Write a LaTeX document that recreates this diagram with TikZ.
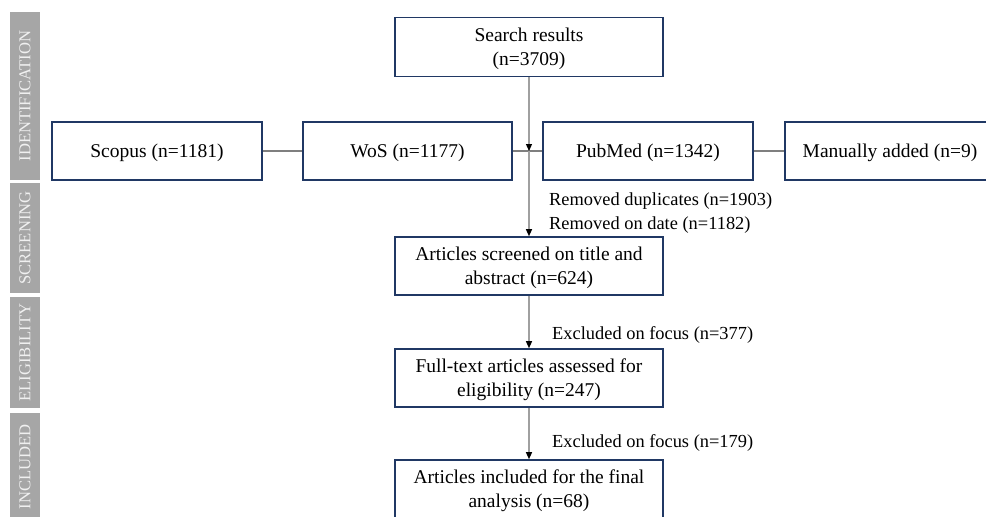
\documentclass[tikz,border=0pt]{standalone}
\usepackage{fontspec}
\setmainfont{Liberation Serif}
\usetikzlibrary{arrows.meta}
\definecolor{boxnavy}{HTML}{203864}
\definecolor{linegray}{HTML}{7F7F7F}
\definecolor{vgray}{HTML}{A0A0A0}
\definecolor{barfill}{HTML}{A6A6A6}
\definecolor{bartext}{HTML}{F0F0F0}
\begin{document}
\begin{tikzpicture}[x=1pt,y=-1pt,
  flowbox/.style={draw=boxnavy,line width=1.6pt,fill=white,inner sep=0pt,text depth=0pt,
    minimum height=58pt,align=center,font=\fontsize{19.5}{24}\selectfont},
  srcbox/.style={flowbox,minimum width=210pt},
  mainbox/.style={flowbox,minimum width=268pt},
  notetext/.style={anchor=west,align=left,inner sep=0pt,font=\fontsize{18.4}{24}\selectfont},
  hlink/.style={draw=linegray,line width=1.8pt},
  vlink/.style={draw=vgray,line width=1.2pt,-{Triangle[width=6pt,length=7pt,fill=black,color=black]}},
  phasebar/.style={fill=barfill,draw=none,rotate=90,inner sep=0pt,minimum height=30pt,
    text=bartext,font=\fontsize{16.6}{18}\selectfont}
]
\useasboundingbox (0,0) rectangle (986,517);
\clip (0,0) rectangle (986,517);

% phase bars
\node[phasebar,minimum width=168pt] (pid) at (25,96) {IDENTIFICATION};
\node[phasebar,minimum width=110pt] (psc) at (25,238) {SCREENING};
\node[phasebar,minimum width=111pt] (pel) at (25,352.5) {ELIGIBILITY};
\node[phasebar,minimum width=108pt] (pin) at (25,467) {INCLUDED};

% boxes
\node[mainbox,minimum height=59pt] (search) at (529,47) {Search results\\(n=3709)};
\node[srcbox] (scopus) at (157,151) {Scopus (n=1181)};
\node[srcbox,minimum width=209pt] (wos) at (407.5,151) {WoS (n=1177)};
\node[srcbox] (pubmed) at (648,151) {PubMed (n=1342)};
\node[srcbox] (manual) at (890,151) {Manually added (n=9)};
\node[mainbox] (screen) at (529,266) {Articles screened on title and\\abstract (n=624)};
\node[mainbox] (elig) at (529,378) {Full-text articles assessed for\\eligibility (n=247)};
\node[mainbox] (incl) at (529,489) {Articles included for the final\\analysis (n=68)};

% horizontal links
\draw[hlink] (scopus.east) -- (wos.west);
\draw[hlink] (wos.east) -- (pubmed.west);
\draw[hlink] (pubmed.east) -- (manual.west);

\coordinate (junc) at (search.south |- wos.east);

% vertical links
\draw[vlink] (search.south) -- (junc);
\draw[vlink] (junc) -- (screen.north);
\draw[vlink] (screen.south) -- (elig.north);
\draw[vlink] (elig.south) -- (incl.north);

% notes
\node[notetext] (rem) at (549,213) {Removed duplicates (n=1903)\\Removed on date (n=1182)};
\node[notetext] (ex1) at (552,335) {Excluded on focus (n=377)};
\node[notetext] (ex2) at (552,443) {Excluded on focus (n=179)};
\end{tikzpicture}
\end{document}
